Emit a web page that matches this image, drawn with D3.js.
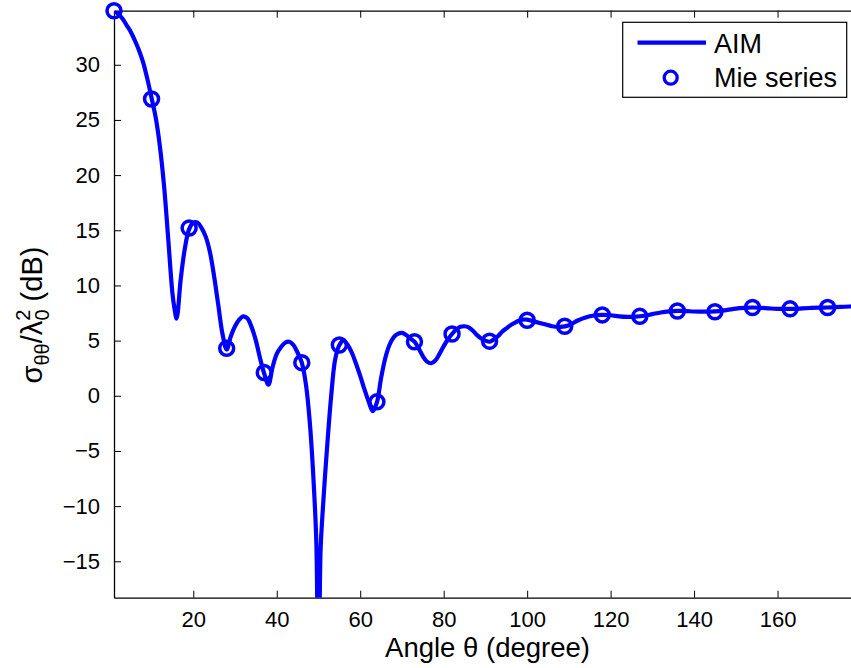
<!DOCTYPE html>
<html>
<head>
<meta charset="utf-8">
<script src="https://cdn.jsdelivr.net/npm/d3@7"></script>
<style>
  html, body { margin: 0; padding: 0; background: #fff; }
  svg { display: block; font-family: "Liberation Sans", Arial, Helvetica, sans-serif; }
</style>
</head>
<body>
<svg id="chart" width="851" height="668"></svg>
<script>
// ---- data ----
const aimAngle = [1,2,3,4,5,6,7,8,9,10,11,12,13,14,15,15.5,16,17,18,19,20,21,22,23,24,25,26,27,28,29,30,31,32,33,34,35,36,37,38,39,40,41,42,43,44,45,46,47,48,49,49.5,50,50.5,51,52,53,54,55,56,57,58,59,60,61,62,63,64,65,66,67,68,69,70,71,72,73,74,75,76,77,78,79,80,81,82,83,84,85,86,87,88,89,90,91,92,93,94,95,96,97,98,99,100,102,104,106,108,110,112,114,116,118,120,122,124,126,128,130,132,134,136,138,140,142,144,146,148,150,152,154,156,158,160,162,164,166,168,170,172,174,176,178,180];
const aimValue = [34.9,34.6,34.2,33.6,33.0,32.2,31.3,30.2,28.7,27.0,25.2,22.6,19.0,14.2,9.3,7.9,7.0,10.6,13.4,15.1,15.7,15.7,15.2,14.4,13.0,10.8,8.2,5.6,4.2,5.4,6.3,6.9,7.2,7.0,6.2,5.0,3.4,2.0,1.0,2.6,3.8,4.4,4.8,4.9,4.6,3.9,3.0,1.0,-2.8,-9.0,-13.5,-28,-14,-10.5,-5.0,-0.2,3.3,4.6,5.0,4.6,3.9,2.9,1.8,0.6,-0.5,-1.4,-0.6,1.6,3.4,4.6,5.3,5.6,5.7,5.5,5.2,4.9,4.3,3.6,3.1,2.95,3.2,3.8,4.5,5.1,5.6,6.0,6.25,6.3,6.2,5.9,5.5,5.2,5.0,4.9,5.1,5.4,5.8,6.1,6.4,6.6,6.8,6.9,6.9,6.7,6.5,6.3,6.25,6.4,6.8,7.1,7.28,7.33,7.3,7.2,7.15,7.17,7.25,7.4,7.55,7.65,7.7,7.68,7.64,7.62,7.63,7.68,7.78,7.9,7.97,8.0,7.97,7.92,7.88,7.87,7.88,7.92,7.96,7.99,8.0,8.03,8.07,8.1,8.12];
const mieAngle = [1,10,19,28,37,46,55,64,73,82,91,100,109,118,127,136,145,154,163,172];
const mieValue = [34.9,26.9,15.2,4.3,2.1,3.0,4.6,-0.55,4.9,5.6,4.95,6.85,6.3,7.33,7.2,7.68,7.62,8.0,7.88,8.0];
const xTicks = [20,40,60,80,100,120,140,160];
const yTicks = [-15,-10,-5,0,5,10,15,20,25,30];
const legendLabels = ["AIM", "Mie series"];

// ---- layout ----
const svg = d3.select("#chart");
const L = 114, R = 861, T = 10.7, B = 597.7;
const x = d3.scaleLinear().domain([1, 180]).range([L, R]);
const y = d3.scaleLinear().domain([-18.3, 34.9]).range([B, T]);
const blue = "#0000ff";
const fmt = d => (d < 0 ? "\u2212" + Math.abs(d) : String(d));

svg.append("rect").attr("width", 851).attr("height", 668).attr("fill", "#fff");

svg.append("defs").append("clipPath").attr("id", "clip")
  .append("rect").attr("x", L).attr("y", T).attr("width", R - L).attr("height", B - T);

// axes
const axisB = d3.axisBottom(x).tickValues(xTicks).tickSizeInner(-7).tickSizeOuter(0).tickPadding(14).tickFormat(fmt);
const axisT = d3.axisTop(x).tickValues(xTicks).tickSizeInner(-7).tickSizeOuter(0).tickFormat("");
const axisLft = d3.axisLeft(y).tickValues(yTicks).tickSizeInner(-7).tickSizeOuter(0).tickPadding(14).tickFormat(fmt);
const axisRt = d3.axisRight(y).tickValues(yTicks).tickSizeInner(-7).tickSizeOuter(0).tickFormat("");

function styleAxis(g) {
  g.select(".domain").attr("stroke", "#000").attr("stroke-width", 1.3);
  g.selectAll(".tick line").attr("stroke", "#000").attr("stroke-width", 1);
  g.selectAll(".tick text").attr("fill", "#000").attr("font-size", 22)
    .attr("font-family", "'Liberation Sans', Arial, sans-serif");
}
svg.append("g").attr("transform", `translate(0,${B})`).call(axisB).call(styleAxis);
svg.append("g").attr("transform", `translate(0,${T})`).call(axisT).call(styleAxis);
svg.append("g").attr("transform", `translate(${L},0)`).call(axisLft).call(styleAxis);
svg.append("g").attr("transform", `translate(${R},0)`).call(axisRt).call(styleAxis);

// AIM line
const aimData = aimAngle.map((a, i) => [a, aimValue[i]]);
const line = d3.line().x(d => x(d[0])).y(d => y(d[1])).curve(d3.curveCatmullRom.alpha(0.5));
svg.append("path").datum(aimData).attr("clip-path", "url(#clip)")
  .attr("d", line).attr("fill", "none").attr("stroke", blue).attr("stroke-width", 4.2)
  .attr("stroke-linejoin", "round");

// Mie markers
const mieData = mieAngle.map((a, i) => [a, mieValue[i]]);
svg.append("g").selectAll("circle").data(mieData).join("circle")
  .attr("cx", d => x(d[0])).attr("cy", d => y(d[1])).attr("r", 7)
  .attr("fill", "none").attr("stroke", blue).attr("stroke-width", 3.5);

// axis labels
svg.append("text").attr("x", (L + R) / 2).attr("y", 657).attr("text-anchor", "middle")
  .attr("font-size", 27.5).attr("fill", "#000").text("Angle \u03b8 (degree)");

const yl = svg.append("text").attr("transform", `translate(42,315) rotate(-90)`)
  .attr("text-anchor", "middle").attr("font-size", 29).attr("fill", "#000");
yl.append("tspan").text("\u03c3");
yl.append("tspan").attr("font-size", 20).attr("dy", 7).text("\u03b8\u03b8");
yl.append("tspan").attr("dy", -7).text("/\u03bb");
yl.append("tspan").attr("font-size", 20).attr("dy", -12).text("2");
yl.append("tspan").attr("font-size", 20).attr("dx", -11).attr("dy", 19).text("0");
yl.append("tspan").attr("dy", -7).text(" (dB)");

// legend
const lg = svg.append("g");
lg.append("rect").attr("x", 622.7).attr("y", 22.3).attr("width", 224).attr("height", 75)
  .attr("fill", "#fff").attr("stroke", "#000").attr("stroke-width", 1.2);
lg.append("line").attr("x1", 637.5).attr("x2", 706).attr("y1", 42.7).attr("y2", 42.7)
  .attr("stroke", blue).attr("stroke-width", 4.2);
lg.append("circle").attr("cx", 670.7).attr("cy", 77.7).attr("r", 6.5)
  .attr("fill", "none").attr("stroke", blue).attr("stroke-width", 3.3);
lg.append("text").attr("x", 714).attr("y", 52.7).attr("font-size", 27).attr("fill", "#000").text(legendLabels[0]);
lg.append("text").attr("x", 714).attr("y", 86.7).attr("font-size", 27).attr("fill", "#000").text(legendLabels[1]);
</script>
</body>
</html>
